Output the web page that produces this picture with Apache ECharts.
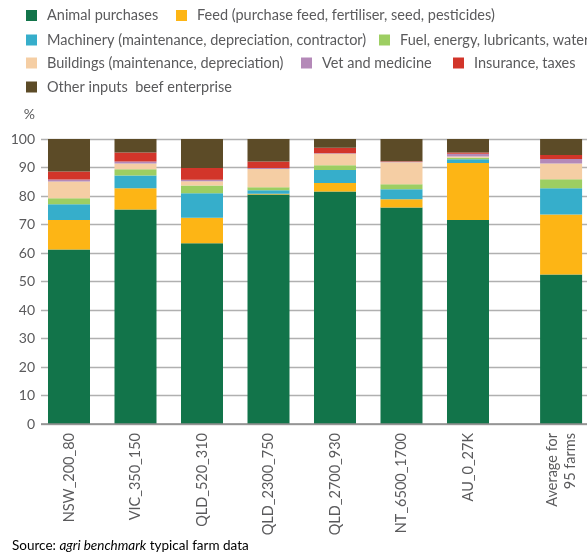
<!DOCTYPE html>
<html><head><meta charset="utf-8">
<script src="https://cdn.jsdelivr.net/npm/echarts@6/dist/echarts.min.js"></script>
<style>html,body{margin:0;padding:0;background:#fff}#c{width:587px;height:558px}</style>
</head><body><div id="c"></div>
<script>
const categories = ['NSW_200_80','VIC_350_150','QLD_520_310','QLD_2300_750','QLD_2700_930','NT_6500_1700','AU_0_27K','Average for\n95 farms'];
const xPos = [0, 1, 2, 3, 4, 5, 6, 7.4];
const animal    = [61.2, 75.3, 63.4, 80.5, 81.6, 76.0, 71.6, 52.5];
const feed      = [10.4,  7.4,  9.0,  0.3,  3.0,  2.9, 20.0, 21.0];
const machinery = [ 5.5,  4.5,  8.6,  1.2,  4.5,  3.5,  1.3,  9.2];
const fuel      = [ 2.1,  2.2,  2.7,  1.1,  1.7,  1.7,  0.5,  3.2];
const buildings = [ 5.9,  2.0,  1.5,  6.4,  4.0,  7.7,  0.5,  5.5];
const vet       = [ 0.7,  0.7,  0.5,  0.3,  0.2,  0.2,  0.9,  1.6];
const insurance = [ 2.8,  3.2,  4.1,  2.3,  1.9,  0.2,  0.5,  1.4];
const other     = [11.4,  4.7, 10.2,  7.9,  3.1,  7.8,  4.7,  5.6];
const yTicks = [0,10,20,30,40,50,60,70,80,90,100];

const seriesDefs = [
  {name:'Animal purchases', data:animal, color:'#12744a', legend:{left:26, top:8}},
  {name:'Feed (purchase feed, fertiliser, seed, pesticides)', data:feed, color:'#fdb515', legend:{left:176, top:8}},
  {name:'Machinery (maintenance, depreciation, contractor)', data:machinery, color:'#36aecb', legend:{left:26, top:32.5}},
  {name:'Fuel, energy, lubricants, water', data:fuel, color:'#9dce62', legend:{left:379, top:32.5}},
  {name:'Buildings (maintenance, depreciation)', data:buildings, color:'#f5cea4', legend:{left:26, top:55.5}},
  {name:'Vet and medicine', data:vet, color:'#b489b8', legend:{left:301, top:55.5}},
  {name:'Insurance, taxes', data:insurance, color:'#d2352a', legend:{left:453, top:55.5}},
  {name:'Other inputs  beef enterprise', data:other, color:'#5c4b27', legend:{left:26, top:79.5}}
];

// cumulative stack bottoms derived from the arrays
const bottoms = seriesDefs.map(() => []);
for (let i = 0; i < categories.length; i++) {
  let acc = 0;
  seriesDefs.forEach((s, k) => { bottoms[k][i] = acc; acc += s.data[i]; });
}

const FONT = 'Lato';
const TXT = '#5a5a5c';
const BAR_FRAC = 42 / 66.5;
const chart = echarts.init(document.getElementById('c'), null, {renderer:'canvas'});
const minX = -0.421, pxPerUnit = 66.5, gridW = 546;

chart.setOption({
  animation:false,
  textStyle:{fontFamily:FONT},
  legend: seriesDefs.map(s => ({
    data:[s.name], left:s.legend.left, top:s.legend.top, padding:0,
    icon:'rect', itemWidth:11, itemHeight:11, itemGap:0,
    selectedMode:false,
    textStyle:{fontFamily:FONT, fontSize:14.5, color:TXT, padding:[0,0,0,5]}
  })),
  grid:{left:41, right:0, top:139, bottom:134, containLabel:false},
  xAxis:{
    type:'value', min:minX, max:minX + gridW/pxPerUnit,
    splitLine:{show:false}, axisTick:{show:false},
    axisLine:{show:false},
    axisLabel:{
      customValues:xPos, rotate:90, margin:9,
      fontFamily:FONT, fontSize:14.5, color:TXT, lineHeight:18,
      formatter:(v)=>{ const i = xPos.findIndex(p=>Math.abs(p-v)<1e-6); return i>=0?categories[i]:''; }
    }
  },
  yAxis:{
    type:'value', min:0, max:100, interval:10,
    axisLine:{show:false}, axisTick:{show:false},
    axisLabel:{fontFamily:FONT, fontSize:14, color:TXT, margin:6, customValues:yTicks},
    splitLine:{lineStyle:{color:'#b0b0b0', width:1.3}}
  },
  series: seriesDefs.map((s, k) => ({
    type:'custom', name:s.name,
    itemStyle:{color:s.color},
    encode:{x:0, y:[1,2]},
    data:s.data.map((v,i)=>[xPos[i], bottoms[k][i], bottoms[k][i] + v]),
    renderItem:(params, api) => {
      const x = api.value(0), y0 = api.value(1), y1 = api.value(2);
      const p0 = api.coord([x, y0]), p1 = api.coord([x, y1]);
      const w = api.size([BAR_FRAC, 0])[0];
      return {type:'rect', shape:{x:p0[0]-w/2, y:p1[1], width:w, height:p0[1]-p1[1]},
        style:{fill:s.color}};
    }
  })).concat([{
    type:'line', silent:true, data:[], markLine:{symbol:'none', silent:true, label:{show:false},
      lineStyle:{color:'#8c8c8c', width:1.5, type:'solid'}, data:[{yAxis:0}]}
  }]),
  graphic:[{
    type:'text', right: 587 - 35, top:107,
    style:{text:'%', fontFamily:FONT, fontSize:14, fill:TXT, textAlign:'right'}
  },{
    type:'text', left:12, top:539,
    style:{
      text:'{n|Source: }{i|agri benchmark}{n| typical farm data}',
      rich:{
        n:{fontFamily:FONT, fontSize:13.5, color:TXT},
        i:{fontFamily:FONT, fontSize:13.5, fontStyle:'italic', color:TXT}
      }
    }
  }]
});
</script></body></html>
